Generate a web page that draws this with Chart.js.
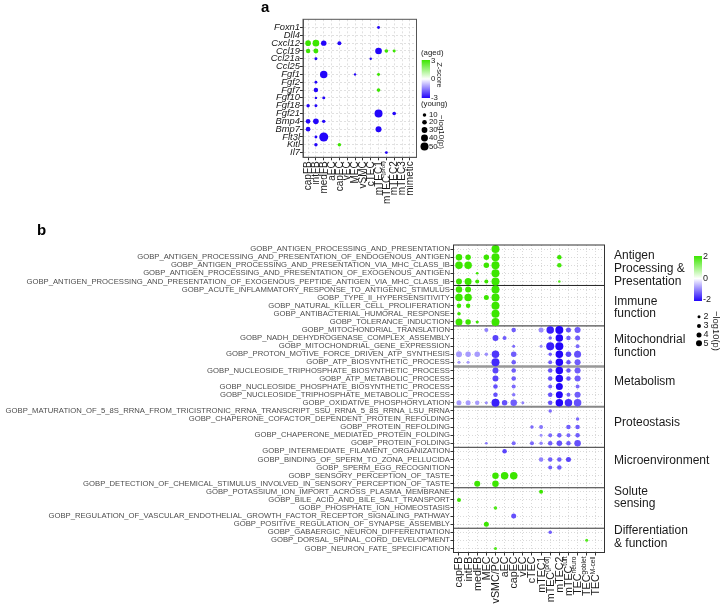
<!DOCTYPE html>
<html><head><meta charset="utf-8">
<script src="https://cdn.jsdelivr.net/npm/chart.js@4.4.1/dist/chart.umd.min.js"></script>
<style>
html,body{margin:0;padding:0;background:#fff;}
#wrap{position:relative;width:722px;height:604px;overflow:hidden;}
canvas{position:absolute;left:0;top:0;}
</style></head><body>
<div id="wrap"><canvas id="ca" width="722" height="604"></canvas><canvas id="cb" width="722" height="604"></canvas></div>
<script>
const FONT = '"Liberation Sans", Arial, sans-serif';

// ---------- Panel a ----------
const aGenes = ['Foxn1','Dll4','Cxcl12','Ccl19','Ccl21a','Ccl25','Fgf1','Fgf2','Fgf7','Fgf10','Fgf18','Fgf21','Bmp4','Bmp7','Flt3l','Kitl','Il7'];
const aCells = ['capFB','intFB','medFB','aEC','capEC','vEC','MEC','vSMC','cTEC','mTEC1','mTEC^(prol)','mTEC2','mTEC3','mimetic'];
// [gene, cell, -log10(p), z-score]
const aDots = [
 ['Foxn1','mTEC1',4,-3],
 ['Cxcl12','capFB',29,3],['Cxcl12','intFB',38,3],['Cxcl12','medFB',27,-3],['Cxcl12','capEC',14,-3],
 ['Ccl19','capFB',18,3],['Ccl19','intFB',23,3],['Ccl19','mTEC1',38,-3],['Ccl19','mTEC^(prol)',11,3],['Ccl19','mTEC2',5,3],
 ['Ccl21a','intFB',5,-3],['Ccl21a','cTEC',0,-3],
 ['Fgf1','medFB',45,-3],['Fgf1','MEC',0,-3],['Fgf1','mTEC1',5,3],
 ['Fgf2','intFB',4,-3],
 ['Fgf7','intFB',18,-3],['Fgf7','mTEC1',11,3],
 ['Fgf10','intFB',0,-3],['Fgf10','medFB',5,-3],
 ['Fgf18','capFB',9,-3],['Fgf18','intFB',5,-3],
 ['Fgf21','mTEC1',50,-3],['Fgf21','mTEC2',11,-3],
 ['Bmp4','capFB',20,-3],['Bmp4','intFB',29,-3],['Bmp4','medFB',9,-3],
 ['Bmp7','capFB',20,-3],['Bmp7','mTEC1',32,-3],
 ['Flt3l','intFB',4,-3],['Flt3l','medFB',59,-3],
 ['Kitl','intFB',9,-3],['Kitl','capEC',9,3],
 ['Il7','mTEC^(prol)',4,-3]
];
const aSizeBreaks = [10,20,30,40,50];
const aZTicks = ['3','0','-3'];

// ---------- Panel b ----------
const bCells = ['capFB','intFB','medFB','MEC','vSMC/PC','aEC','capEC','vEC','cTEC','mTEC1','mTEC^(prol)','mTEC2','mTEC^tuft','TEC^neuro','TEC^goblet','TEC^M-cell'];
// each row: list of [cell index, -log10(p), z-score]
const bAntigenTerms = [
 'GOBP_ANTIGEN_PROCESSING_AND_PRESENTATION',
 'GOBP_ANTIGEN_PROCESSING_AND_PRESENTATION_OF_ENDOGENOUS_ANTIGEN',
 'GOBP_ANTIGEN_PROCESSING_AND_PRESENTATION_VIA_MHC_CLASS_IB',
 'GOBP_ANTIGEN_PROCESSING_AND_PRESENTATION_OF_EXOGENOUS_ANTIGEN',
 'GOBP_ANTIGEN_PROCESSING_AND_PRESENTATION_OF_EXOGENOUS_PEPTIDE_ANTIGEN_VIA_MHC_CLASS_IB'];
const bAntigenDots = [
 [[4,7,2]],
 [[0,5.5,2],[1,4.5,2],[3,4.5,2],[4,7,2],[11,3.5,2]],
 [[0,6.5,2],[1,6.5,2],[3,4.5,2],[4,7,2],[11,3.5,1.9]],
 [[2,1.6,2],[4,7,2]],
 [[0,5,2],[1,6,2],[2,3,2],[3,3,2],[4,7,2],[11,1.5,1.8]]];
const bImmuneTerms = [
 'GOBP_ACUTE_INFLAMMATORY_RESPONSE_TO_ANTIGENIC_STIMULUS',
 'GOBP_TYPE_II_HYPERSENSITIVITY',
 'GOBP_NATURAL_KILLER_CELL_PROLIFERATION',
 'GOBP_ANTIBACTERIAL_HUMORAL_RESPONSE',
 'GOBP_TOLERANCE_INDUCTION'];
const bImmuneDots = [
 [[0,5.5,2],[1,5,2],[4,7,2]],
 [[0,6.5,2],[1,6.5,2],[3,4,2],[4,7,2]],
 [[0,3.5,2],[1,3.5,2],[4,7,2]],
 [[0,2.5,2],[4,7,2]],
 [[0,6,2],[1,4.5,2],[2,2,2],[4,7,2]]];
const bMitoTerms = [
 'GOBP_MITOCHONDRIAL_TRANSLATION',
 'GOBP_NADH_DEHYDROGENASE_COMPLEX_ASSEMBLY',
 'GOBP_MITOCHONDRIAL_GENE_EXPRESSION',
 'GOBP_PROTON_MOTIVE_FORCE_DRIVEN_ATP_SYNTHESIS',
 'GOBP_ATP_BIOSYNTHETIC_PROCESS'];
const bMitoDots = [
 [[3,3,-1.0],[6,3.5,-1.3],[9,4,-0.9],[10,6.5,-1.8],[11,7,-2],[12,4,-1.4],[13,5,-1.3]],
 [[4,5,-1.5],[5,3,-1.3],[10,2.5,-1.3],[11,6.5,-2],[12,3.5,-1.3],[13,4,-1.3]],
 [[6,2,-1.2],[9,2,-0.9],[10,7,-1.8],[11,7,-2],[13,3,-1.2]],
 [[0,5,-0.8],[1,4.5,-0.8],[2,4.5,-0.8],[3,2.5,-0.9],[4,6.5,-1.6],[6,4.5,-1.3],[10,2.5,-1.3],[11,6.5,-2],[12,4.5,-1.5],[13,6,-1.4]],
 [[0,2,-0.8],[1,2,-0.8],[4,7,-1.7],[6,3.5,-1.3],[10,3,-1.3],[11,6.5,-2],[12,3.5,-1.4],[13,5,-1.3]]];
const bMetabTerms = [
 'GOBP_NUCLEOSIDE_TRIPHOSPHATE_BIOSYNTHETIC_PROCESS',
 'GOBP_ATP_METABOLIC_PROCESS',
 'GOBP_NUCLEOSIDE_PHOSPHATE_BIOSYNTHETIC_PROCESS',
 'GOBP_NUCLEOSIDE_TRIPHOSPHATE_METABOLIC_PROCESS',
 'GOBP_OXIDATIVE_PHOSPHORYLATION'];
const bMetabDots = [
 [[4,5,-1.5],[6,3.5,-1.3],[10,3.5,-1.4],[11,6.5,-2],[12,3.5,-1.4],[13,5,-1.3]],
 [[4,5,-1.5],[6,3.5,-1.3],[10,3.5,-1.4],[11,6.5,-2],[12,3.5,-1.4],[13,5,-1.3]],
 [[4,3.5,-1.4],[6,3,-1.2],[10,3,-1.3],[11,6,-2],[13,3,-1.2]],
 [[4,3.5,-1.4],[6,2.5,-1.1],[10,3.5,-1.4],[11,6,-2],[12,3,-1.3],[13,5,-1.3]],
 [[0,4,-0.8],[1,4,-0.8],[2,3.5,-0.8],[3,2,-0.9],[4,7,-1.8],[5,4.5,-1.4],[6,5.5,-1.3],[7,2,-1.0],[10,3.5,-1.4],[11,6.5,-2],[12,6.5,-1.7],[13,6.5,-1.4]]];
const bProteoTerms = [
 'GOBP_MATURATION_OF_5_8S_RRNA_FROM_TRICISTRONIC_RRNA_TRANSCRIPT_SSU_RRNA_5_8S_RRNA_LSU_RRNA',
 'GOBP_CHAPERONE_COFACTOR_DEPENDENT_PROTEIN_REFOLDING',
 'GOBP_PROTEIN_REFOLDING',
 'GOBP_CHAPERONE_MEDIATED_PROTEIN_FOLDING',
 'GOBP_PROTEIN_FOLDING'];
const bProteoDots = [
 [[10,2.5,-1.2]],
 [[13,2.5,-1.2]],
 [[8,2.5,-1.2],[9,3,-1.1],[12,3.5,-1.3],[13,3.5,-1.3]],
 [[9,2,-0.9],[10,3,-1.2],[11,3.5,-1.3],[12,3,-1.2],[13,3.5,-1.3]],
 [[3,1.6,-1.1],[6,3,-1.2],[8,3,-1.2],[9,2.5,-1.0],[10,3.5,-1.3],[11,4.5,-1.4],[12,3.5,-1.3],[13,5.5,-1.4]]];
const bMicroTerms = [
 'GOBP_INTERMEDIATE_FILAMENT_ORGANIZATION',
 'GOBP_BINDING_OF_SPERM_TO_ZONA_PELLUCIDA',
 'GOBP_SPERM_EGG_RECOGNITION',
 'GOBP_SENSORY_PERCEPTION_OF_TASTE',
 'GOBP_DETECTION_OF_CHEMICAL_STIMULUS_INVOLVED_IN_SENSORY_PERCEPTION_OF_TASTE'];
const bMicroDots = [
 [[5,3.5,-1.5]],
 [[9,3.5,-1.0],[10,3.5,-1.3],[11,3.5,-1.3],[12,4,-1.5]],
 [[10,3,-1.3],[11,3.5,-1.3]],
 [[4,5.5,2],[5,6.5,2],[6,6.5,2]],
 [[2,5,2],[4,5.5,2]]];
const bSoluteTerms = [
 'GOBP_POTASSIUM_ION_IMPORT_ACROSS_PLASMA_MEMBRANE',
 'GOBP_BILE_ACID_AND_BILE_SALT_TRANSPORT',
 'GOBP_PHOSPHATE_ION_HOMEOSTASIS',
 'GOBP_REGULATION_OF_VASCULAR_ENDOTHELIAL_GROWTH_FACTOR_RECEPTOR_SIGNALING_PATHWAY',
 'GOBP_POSITIVE_REGULATION_OF_SYNAPSE_ASSEMBLY'];
const bSoluteDots = [
 [[9,3,2]],
 [[0,3,2]],
 [[4,2.5,1.8]],
 [[6,4,-1.4]],
 [[3,4,2]]];
const bDiffTerms = [
 'GOBP_GABAERGIC_NEURON_DIFFERENTIATION',
 'GOBP_DORSAL_SPINAL_CORD_DEVELOPMENT',
 'GOBP_NEURON_FATE_SPECIFICATION'];
const bDiffDots = [
 [[10,2.5,-1.3]],
 [[14,2,1.8]],
 [[4,2,1.8]]];
const bSizeBreaks = [2,3,4,5];
const bZTicks = ['2','0','-2'];

// ---------- helpers ----------
const sizeA = p => 1.2 + 0.056 * p;
const sizeB = p => 0.5 + 0.5 * p;
function zColor(z, zmax) {
  const t = Math.max(-1, Math.min(1, z / zmax));
  const hi = [60, 230, 0], lo = [35, 5, 250], w = [255, 255, 255];
  const c = t >= 0 ? hi : lo, a = Math.abs(t);
  return 'rgb(' + w.map((v, i) => Math.round(v + (c[i] - v) * a)).join(',') + ')';
}
function drawRotLabel(ctx, x, top, label, size, color) {
  const parts = label.split('^');
  const main = parts[0], sup = parts[1] || '';
  const fm = size + 'px ' + FONT, fs = (size * 0.62).toFixed(2) + 'px ' + FONT;
  ctx.save();
  ctx.translate(x, top);
  ctx.rotate(-Math.PI / 2);
  ctx.fillStyle = color;
  ctx.textBaseline = 'middle';
  ctx.textAlign = 'left';
  ctx.font = fm; const wm = ctx.measureText(main).width;
  ctx.font = fs; const ws = sup ? ctx.measureText(sup).width : 0;
  ctx.font = fm; ctx.fillText(main, -(wm + ws), 0.5);
  if (sup) { ctx.font = fs; ctx.fillText(sup, -ws, -size * 0.28); }
  ctx.restore();
}
function drawColorbar(ctx, x, y, w, h, zmax) {
  const g = ctx.createLinearGradient(0, y, 0, y + h);
  for (let k = 0; k <= 10; k++) g.addColorStop(k / 10, zColor(zmax * (1 - k / 5), zmax));
  ctx.fillStyle = g;
  ctx.fillRect(x, y, w, h);
}
function text(ctx, s, x, y, size, opts = {}) {
  ctx.save();
  ctx.font = (opts.weight || '') + ' ' + size + 'px ' + FONT;
  ctx.fillStyle = opts.color || '#1a1a1a';
  ctx.textAlign = opts.align || 'left';
  ctx.textBaseline = opts.baseline || 'middle';
  ctx.translate(x, y);
  if (opts.rot) ctx.rotate(opts.rot);
  ctx.fillText(s, 0, 0);
  ctx.restore();
}
function axisCfg(n, min, max, fitFn, extra) {
  return Object.assign({
    type: 'linear', min: min, max: max,
    afterBuildTicks: s => { s.ticks = Array.from({length: n}, (_, i) => ({value: i})); },
    afterFit: fitFn
  }, extra);
}

// ---------- chart a ----------
const aData = aDots.map(d => ({x: aCells.indexOf(d[1]), y: aGenes.indexOf(d[0]), r: sizeA(d[2]), z: d[3]}));
const aPlugin = {
  id: 'aDecor',
  afterDraw(chart) {
    const ctx = chart.ctx, ca = chart.chartArea;
    ctx.save();
    ctx.strokeStyle = '#555'; ctx.lineWidth = 1;
    ctx.strokeRect(ca.left, ca.top, ca.right - ca.left, ca.bottom - ca.top);
    ctx.restore();
    aCells.forEach((c, i) => drawRotLabel(ctx, chart.scales.x.getPixelForValue(i), ca.bottom + 4, c, 10, '#1a1a1a'));
    text(ctx, 'a', 261, 8, 15, {weight: 'bold', color: '#000'});
    // colour bar
    text(ctx, '(aged)', 421, 53, 7.8);
    drawColorbar(ctx, 421.7, 60, 8.3, 38, 3);
    [60.5, 79, 97.5].forEach((y, i) => text(ctx, aZTicks[i], 431, y, 7.8));
    text(ctx, '(young)', 421, 104, 7.8);
    text(ctx, 'Z-score', 439, 75, 7.5, {align: 'center', rot: Math.PI / 2});
    // size legend
    const ys = [115, 122.3, 130, 138, 146.5];
    aSizeBreaks.forEach((p, i) => {
      ctx.beginPath(); ctx.fillStyle = '#000';
      ctx.arc(424.5, ys[i], sizeA(p), 0, Math.PI * 2); ctx.fill();
      text(ctx, String(p), 429, ys[i], 7.8);
    });
    text(ctx, '\u2212log10(p)', 441, 132, 8, {align: 'center', rot: Math.PI / 2});
  }
};
const gridA = {color: '#d9d9d9', lineWidth: 0.8, tickLength: 3, tickColor: '#333', tickWidth: 1};
const borderA = {display: true, color: '#555', width: 1, dash: [2, 2]};
new Chart(document.getElementById('ca'), {
  type: 'bubble',
  data: {datasets: [{data: aData, backgroundColor: c => zColor(c.raw.z, 3), borderWidth: 0, hoverBorderWidth: 0}]},
  options: {
    responsive: false, animation: false, devicePixelRatio: 1, events: [],
    layout: {padding: {left: 0, top: 19.3, right: 305.5, bottom: 443.7}},
    plugins: {legend: {display: false}, tooltip: {enabled: false}},
    scales: {
      x: axisCfg(aCells.length, -0.65, 13.85, s => { s.height = 3; }, {
        position: 'bottom', ticks: {display: false}, grid: gridA, border: borderA}),
      y: axisCfg(aGenes.length, -1.05, 16.6, s => { s.width = 303; }, {
        reverse: true,
        ticks: {autoSkip: false, padding: 0, color: '#1a1a1a', font: {family: FONT, size: 9.4, style: 'italic'}, callback: v => aGenes[v]},
        grid: gridA, border: borderA})
    }
  },
  plugins: [aPlugin]
});

// ---------- chart b ----------
const bGroups = [
 [bAntigenTerms, bAntigenDots, [['Antigen', 256], ['Processing &', 268.7], ['Presentation', 281.5]]],
 [bImmuneTerms, bImmuneDots, [['Immune', 301.7], ['function', 314]]],
 [bMitoTerms, bMitoDots, [['Mitochondrial', 340], ['function', 352.5]]],
 [bMetabTerms, bMetabDots, [['Metabolism', 381.7]]],
 [bProteoTerms, bProteoDots, [['Proteostasis', 423]]],
 [bMicroTerms, bMicroDots, [['Microenvironment', 460.7]]],
 [bSoluteTerms, bSoluteDots, [['Solute', 491.7], ['sensing', 504]]],
 [bDiffTerms, bDiffDots, [['Differentiation', 530.7], ['& function', 543.3]]]
];
const bTerms = [].concat(...bGroups.map(g => g[0]));
const bData = [];
let rowBase = 0;
const bSeparators = [];
bGroups.forEach((g, gi) => {
  g[1].forEach((row, ri) => row.forEach(d => bData.push({x: d[0], y: rowBase + ri, r: sizeB(d[1]), z: d[2]})));
  rowBase += g[0].length;
  if (gi < bGroups.length - 1) bSeparators.push(rowBase - 0.5);
});
const sepStyles = [['#222', 1], ['#222', 1], ['#999', 2.5], ['#888', 2], ['#333', 1], ['#333', 1], ['#333', 1]];
const bPlugin = {
  id: 'bDecor',
  beforeDatasetsDraw(chart) {
    const ctx = chart.ctx, ca = chart.chartArea, ys = chart.scales.y;
    bSeparators.forEach((v, i) => {
      const y = ys.getPixelForValue(v);
      ctx.save(); ctx.strokeStyle = sepStyles[i][0]; ctx.lineWidth = sepStyles[i][1];
      ctx.beginPath(); ctx.moveTo(ca.left, y); ctx.lineTo(ca.right, y); ctx.stroke(); ctx.restore();
    });
  },
  afterDraw(chart) {
    const ctx = chart.ctx, ca = chart.chartArea;
    ctx.save();
    ctx.strokeStyle = '#333'; ctx.lineWidth = 1;
    ctx.strokeRect(ca.left, ca.top, ca.right - ca.left, ca.bottom - ca.top);
    ctx.restore();
    bCells.forEach((c, i) => drawRotLabel(ctx, chart.scales.x.getPixelForValue(i), ca.bottom + 4, c, 10.7, '#1a1a1a'));
    text(ctx, 'b', 37, 231, 15, {weight: 'bold', color: '#000'});
    bGroups.forEach(g => g[2].forEach(l => text(ctx, l[0], 614, l[1], 12)));
    // colour bar
    drawColorbar(ctx, 694, 256, 8, 45, 2);
    [257, 278.5, 300].forEach((y, i) => text(ctx, bZTicks[i], 703, y, 9));
    // size legend
    const ys = [316.7, 326, 335, 343.3];
    bSizeBreaks.forEach((p, i) => {
      ctx.beginPath(); ctx.fillStyle = '#000';
      ctx.arc(699, ys[i], sizeB(p), 0, Math.PI * 2); ctx.fill();
      text(ctx, String(p), 703.5, ys[i], 9);
    });
    text(ctx, '\u2212log10(p)', 716, 331, 9.4, {align: 'center', rot: Math.PI / 2});
  }
};
const gridB = {color: '#cfcfcf', lineWidth: 0.8, tickLength: 3, tickColor: '#333', tickWidth: 1};
const borderB = {display: true, color: '#333', width: 1, dash: [1, 2]};
new Chart(document.getElementById('cb'), {
  type: 'bubble',
  data: {datasets: [{data: bData, backgroundColor: c => zColor(c.raw.z, 2), borderWidth: 0, hoverBorderWidth: 0}]},
  options: {
    responsive: false, animation: false, devicePixelRatio: 1, events: [],
    layout: {padding: {left: 0, top: 245, right: 117.5, bottom: 48.5}},
    plugins: {legend: {display: false}, tooltip: {enabled: false}},
    scales: {
      x: axisCfg(bCells.length, -0.6, 15.95, s => { s.height = 3; }, {
        position: 'bottom', ticks: {display: false}, grid: gridB, border: borderB}),
      y: axisCfg(bTerms.length, -0.5, bTerms.length - 0.5, s => { s.width = 453.5; }, {
        reverse: true,
        ticks: {autoSkip: false, padding: 0.5, color: '#4d4d4d', font: {family: FONT, size: 7.7}, callback: v => bTerms[v]},
        grid: gridB, border: borderB})
    }
  },
  plugins: [bPlugin]
});
</script></body></html>
